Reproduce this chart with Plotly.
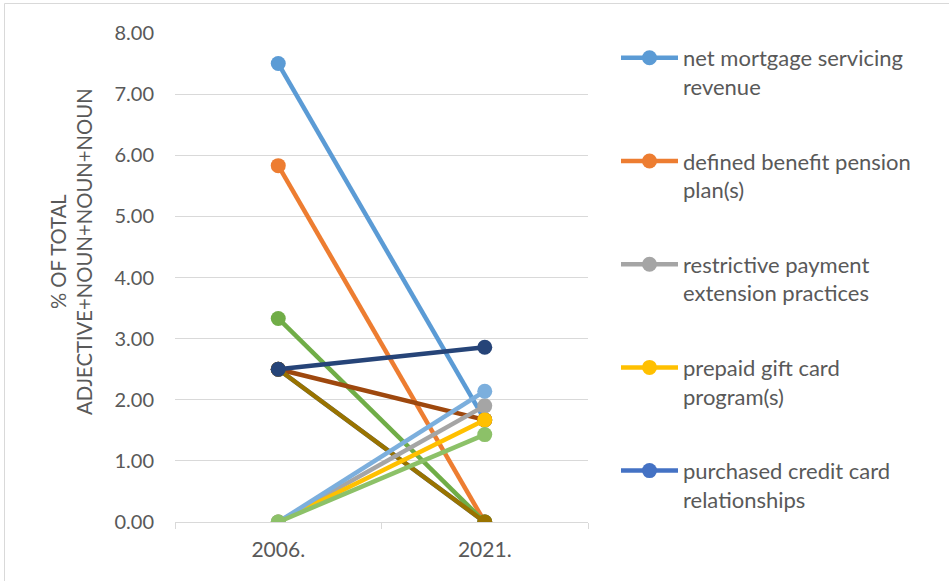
import plotly.graph_objects as go

# Category axis
years = ["2006.", "2021."]

# Series values (% of total adjective+noun+noun+noun phrases)
mortgage_servicing = [7.50, 1.67]
pension_plans = [5.83, 0.00]
payment_extension = [0.00, 1.90]
gift_card_programs = [0.00, 1.67]
credit_card_relationships = [2.50, 0.00]
series_6 = [3.33, 0.00]
series_8 = [2.50, 1.67]
series_10 = [2.50, 0.00]
series_11 = [2.50, 2.86]
series_13 = [0.00, 2.14]
series_18 = [0.00, 1.43]

legend_names = [
    "net mortgage servicing<br>revenue",
    "defined benefit pension<br>plan(s)",
    "restrictive payment<br>extension practices",
    "prepaid gift card<br>program(s)",
    "purchased credit card<br>relationships",
]

# Drawing order: (values, colour, legend index or None)
traces = [
    (mortgage_servicing, "#5B9BD5", 0),
    (pension_plans, "#ED7D31", 1),
    (credit_card_relationships, "#4472C4", 4),
    (series_6, "#70AD47", None),
    (series_8, "#9E480E", None),
    (series_10, "#997300", None),
    (series_11, "#264478", None),
    (payment_extension, "#A5A5A5", 2),
    (gift_card_programs, "#FFC000", 3),
    (series_13, "#7CAFDD", None),
    (series_18, "#8CC168", None),
]

FONT = "Lato"
TEXT = "#595959"

fig = go.Figure()
for k, (vals, color, li) in enumerate(traces):
    fig.add_trace(go.Scatter(
        x=years, y=vals, mode="lines+markers",
        name=legend_names[li] if li is not None else f"series {k}",
        showlegend=li is not None,
        legendrank=(li + 1) if li is not None else 1000,
        legendgroup=f"g{k}",
        line=dict(color=color, width=4.5),
        marker=dict(color=color, size=15),
        hoverinfo="x+y",
    ))

L, R, T, B = 175, 361, 33, 59
W, H = 949, 581
pw, ph = W - L - R, H - T - B

def px_x(px):
    return (px - L) / pw

def px_y(py):
    return (H - B - py) / ph

fig.update_layout(
    width=W, height=H,
    margin=dict(l=L, r=R, t=T, b=B),
    paper_bgcolor="white", plot_bgcolor="white",
    font=dict(family=FONT, color=TEXT, size=20),
    xaxis=dict(
        type="category", range=[-0.5, 1.5],
        showgrid=False, zeroline=False,
        showline=True, linecolor="#D9D9D9", linewidth=1,
        ticks="outside", tickson="boundaries", ticklen=6,
        tickcolor="#D9D9D9", tickfont=dict(size=21, color=TEXT),
        ticklabelstandoff=9,
    ),
    yaxis=dict(
        range=[0, 8], dtick=1, tickformat=".2f",
        showgrid=True, gridcolor="#D9D9D9", gridwidth=1,
        zeroline=False, showline=False,
        tickfont=dict(size=20, color=TEXT),
        ticklabelstandoff=20,
    ),
    legend=dict(
        x=px_x(616), xanchor="left",
        y=px_y(37), yanchor="top",
        traceorder="grouped", tracegroupgap=43,
        valign="top", itemwidth=57,
        font=dict(size=22, color=TEXT, family=FONT),
        bgcolor="rgba(0,0,0,0)",
    ),
    annotations=[dict(
        text="% OF TOTAL<br>ADJECTIVE+NOUN+NOUN+NOUN",
        x=px_x(71), y=px_y(251), xref="paper", yref="paper",
        xanchor="center", yanchor="middle",
        textangle=-90, showarrow=False,
        font=dict(size=20.3, color=TEXT, family=FONT),
    )],
    shapes=[
        dict(type="line", xref="paper", yref="paper",
             x0=px_x(4.5), x1=px_x(4.5), y0=px_y(3.5), y1=px_y(H),
             line=dict(color="#D9D9D9", width=1)),
        dict(type="line", xref="paper", yref="paper",
             x0=px_x(4.5), x1=px_x(W), y0=px_y(3.5), y1=px_y(3.5),
             line=dict(color="#D9D9D9", width=1)),
    ],
)

fig.write_html("out.html")
